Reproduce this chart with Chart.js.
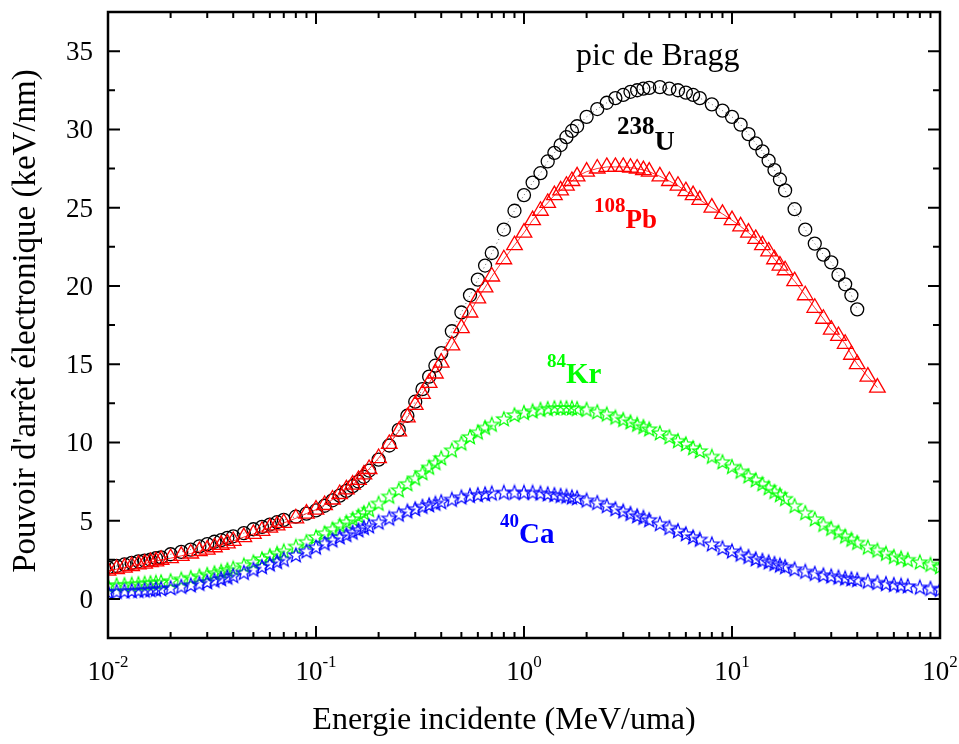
<!DOCTYPE html>
<html>
<head>
<meta charset="utf-8">
<script src="https://cdn.jsdelivr.net/npm/chart.js@4.4.1/dist/chart.umd.min.js"></script>
<style>
  body { margin: 0; background: #fff; }
  canvas { display: block; }
</style>
</head>
<body>
<canvas id="stopping" width="959" height="744"></canvas>
<script>
// energy grid (MeV/uma), shared by every ion
const energies = [
  0.01, 0.011, 0.012, 0.013, 0.014, 0.015, 0.016, 0.017, 0.018, 0.02, 0.0225, 0.025, 0.0275,
  0.03, 0.0325, 0.035, 0.0375, 0.04, 0.045, 0.05, 0.055, 0.06, 0.065, 0.07, 0.08, 0.09,
  0.1, 0.11, 0.12, 0.13, 0.14, 0.15, 0.16, 0.17, 0.18, 0.2, 0.225, 0.25, 0.275,
  0.3, 0.325, 0.35, 0.375, 0.4, 0.45, 0.5, 0.55, 0.6, 0.65, 0.7, 0.8, 0.9,
  1, 1.1, 1.2, 1.3, 1.4, 1.5, 1.6, 1.7, 1.8, 2, 2.25, 2.5, 2.75,
  3, 3.25, 3.5, 3.75, 4, 4.5, 5, 5.5, 6, 6.5, 7, 8, 9,
  10, 11, 12, 13, 14, 15, 16, 17, 18, 20, 22.5, 25, 27.5,
  30, 32.5, 35, 37.5, 40, 45, 50, 55, 60, 65, 70, 80, 90,
  100
];

// electronic stopping power (keV/nm)
const uranium = [
  2.0, 2.1, 2.2, 2.3, 2.4, 2.45, 2.5, 2.6, 2.65, 2.85, 3.0, 3.15, 3.35,
  3.5, 3.65, 3.75, 3.9, 4.0, 4.2, 4.45, 4.6, 4.75, 4.9, 5.05, 5.25, 5.45,
  5.65, 5.95, 6.3, 6.6, 6.9, 7.2, 7.5, 7.8, 8.2, 8.9, 9.8, 10.8, 11.7,
  12.6, 13.4, 14.2, 14.9, 15.7, 17.1, 18.3, 19.4, 20.4, 21.3, 22.1, 23.6, 24.8,
  25.8, 26.6, 27.2, 27.95, 28.5, 29.0, 29.5, 29.9, 30.2, 30.8, 31.3, 31.7, 32.0,
  32.2, 32.4, 32.5, 32.6, 32.65, 32.7, 32.6, 32.5, 32.35, 32.2, 32.0, 31.6, 31.2,
  30.8, 30.3, 29.7, 29.1, 28.6, 28.0, 27.4, 26.8, 26.1, 24.9, 23.6, 22.7, 22.0,
  21.5, 20.7, 20.1, 19.4, 18.5
];
const lead = [
  1.8, 1.9, 2.0, 2.1, 2.2, 2.25, 2.35, 2.4, 2.5, 2.6, 2.75, 2.9, 3.05,
  3.15, 3.3, 3.45, 3.55, 3.7, 3.95, 4.15, 4.35, 4.55, 4.7, 4.85, 5.15, 5.45,
  5.7, 6.0, 6.35, 6.7, 7.0, 7.3, 7.6, 7.95, 8.3, 9.0, 9.9, 10.7, 11.6,
  12.4, 13.1, 13.8, 14.4, 15.1, 16.2, 17.3, 18.3, 19.2, 19.9, 20.6, 21.7, 22.6,
  23.4, 24.2, 24.8, 25.3, 25.8, 26.1, 26.4, 26.7, 27.0, 27.3, 27.5, 27.6, 27.6,
  27.6, 27.55, 27.5, 27.4, 27.3, 27.0, 26.7, 26.4, 26.05, 25.8, 25.5, 25.0, 24.6,
  24.2, 23.8, 23.4, 23.0, 22.6, 22.2, 21.7, 21.3, 21.0, 20.3, 19.4, 18.6, 17.9,
  17.2, 16.8, 16.3, 15.6, 15.0, 14.2, 13.5
];
const krypton = [
  0.85, 0.88, 0.9, 0.93, 0.96, 0.99, 1.02, 1.05, 1.08, 1.15, 1.25, 1.35, 1.45,
  1.55, 1.65, 1.75, 1.85, 1.95, 2.15, 2.35, 2.55, 2.75, 2.9, 3.05, 3.35, 3.65,
  3.95, 4.2, 4.45, 4.7, 4.9, 5.1, 5.3, 5.5, 5.7, 6.1, 6.55, 6.95, 7.35,
  7.7, 8.05, 8.4, 8.7, 9.0, 9.5, 9.95, 10.35, 10.65, 10.95, 11.15, 11.5, 11.75,
  11.9, 12.0, 12.1, 12.15, 12.2, 12.2, 12.2, 12.2, 12.15, 12.1, 11.95, 11.8, 11.6,
  11.45, 11.3, 11.15, 11.0, 10.85, 10.6, 10.35, 10.1, 9.9, 9.65, 9.45, 9.1, 8.75,
  8.45, 8.15, 7.85, 7.6, 7.35, 7.1, 6.85, 6.65, 6.4, 5.95, 5.5, 5.1, 4.75,
  4.5, 4.25, 4.0, 3.8, 3.6, 3.3, 3.1, 2.9, 2.7, 2.6, 2.5, 2.35, 2.2,
  2.05
];
const calcium = [
  0.45, 0.47, 0.49, 0.51, 0.53, 0.55, 0.58, 0.61, 0.64, 0.7, 0.79, 0.88, 0.98,
  1.08, 1.18, 1.28, 1.38, 1.48, 1.68, 1.88, 2.05, 2.22, 2.38, 2.52, 2.8, 3.05,
  3.3, 3.55, 3.75, 3.95, 4.1, 4.25, 4.4, 4.55, 4.65, 4.9, 5.15, 5.4, 5.6,
  5.75, 5.9, 6.0, 6.1, 6.2, 6.35, 6.5, 6.6, 6.65, 6.7, 6.75, 6.8, 6.8,
  6.8, 6.8, 6.75, 6.7, 6.65, 6.6, 6.55, 6.5, 6.45, 6.3, 6.15, 5.95, 5.75,
  5.6, 5.45, 5.3, 5.2, 5.05, 4.8, 4.55, 4.35, 4.15, 3.95, 3.8, 3.5, 3.25,
  3.05, 2.85, 2.7, 2.55, 2.45, 2.35, 2.25, 2.15, 2.05, 1.9, 1.75, 1.62, 1.52,
  1.45, 1.38, 1.32, 1.27, 1.22, 1.12, 1.04, 0.97, 0.91, 0.86, 0.82, 0.74, 0.66,
  0.6
];

const yTicks = [0, 5, 10, 15, 20, 25, 30, 35];
const xDecades = [-2, -1, 0, 1, 2];

const SERIF = '"Liberation Serif", "Times New Roman", serif';

function pairs(values) {
  return values.map((v, i) => ({ x: energies[i], y: v }));
}

// open five-point star used as marker
function starMarker(color) {
  const c = document.createElement('canvas');
  c.width = 18; c.height = 18;
  const g = c.getContext('2d');
  g.strokeStyle = color;
  g.lineWidth = 1.2;
  g.beginPath();
  for (let k = 0; k < 10; k++) {
    const r = k % 2 ? 3.2 : 7.6;
    const a = -Math.PI / 2 + k * Math.PI / 5;
    g.lineTo(9 + r * Math.cos(a), 9.5 + r * Math.sin(a));
  }
  g.closePath();
  g.stroke();
  return c;
}

// frame, inward ticks, tick labels, axis titles and ion labels
const frame = {
  id: 'frame',
  afterDraw(chart) {
    const { ctx, chartArea: a, scales: { x, y } } = chart;
    ctx.save();
    ctx.strokeStyle = '#000';
    ctx.fillStyle = '#000';

    ctx.lineWidth = 2;
    ctx.beginPath();
    for (let v = -2.5; v <= 37.5; v += 2.5) {
      const py = y.getPixelForValue(v);
      const len = v % 5 === 0 ? 12 : 7;
      ctx.moveTo(a.left, py); ctx.lineTo(a.left + len, py);
      ctx.moveTo(a.right, py); ctx.lineTo(a.right - len, py);
    }
    for (let d = -2; d < 2; d++) {
      for (let m = 1; m <= 9; m++) {
        const px = x.getPixelForValue(m * Math.pow(10, d));
        const len = m === 1 ? 12 : 6;
        ctx.moveTo(px, a.bottom); ctx.lineTo(px, a.bottom - len);
        ctx.moveTo(px, a.top); ctx.lineTo(px, a.top + len);
      }
    }
    ctx.stroke();

    ctx.lineWidth = 2.5;
    ctx.strokeRect(a.left, a.top, a.right - a.left, a.bottom - a.top);

    ctx.font = '27px ' + SERIF;
    ctx.textAlign = 'right';
    ctx.textBaseline = 'alphabetic';
    yTicks.forEach(v => {
      ctx.fillText(String(v), a.left - 15, y.getPixelForValue(v) + 9);
    });

    ctx.textAlign = 'left';
    xDecades.forEach(d => {
      const px = x.getPixelForValue(Math.pow(10, d));
      ctx.font = '27px ' + SERIF;
      const wBase = ctx.measureText('10').width;
      ctx.font = '17px ' + SERIF;
      const wExp = ctx.measureText(String(d)).width;
      const start = px - (wBase + wExp) / 2;
      ctx.font = '27px ' + SERIF;
      ctx.fillText('10', start, 680);
      ctx.font = '17px ' + SERIF;
      ctx.fillText(String(d), start + wBase, 667);
    });

    ctx.font = '32px ' + SERIF;
    ctx.textAlign = 'center';
    ctx.fillText('Energie incidente (MeV/uma)', 504, 729);

    ctx.save();
    ctx.font = '33px ' + SERIF;
    ctx.translate(35, 321);
    ctx.rotate(-Math.PI / 2);
    ctx.fillText("Pouvoir d'arrêt électronique (keV/nm)", 0, 0);
    ctx.restore();

    ctx.font = '32px ' + SERIF;
    ctx.fillText('pic de Bragg', x.getPixelForValue(4.4), y.getPixelForValue(34.1));

    const iso = (mass, sym, e, v, color, supSize, symSize) => {
      const px = x.getPixelForValue(e);
      const py = y.getPixelForValue(v);
      ctx.fillStyle = color;
      ctx.textAlign = 'left';
      ctx.font = 'bold ' + supSize + 'px ' + SERIF;
      ctx.fillText(mass, px, py - 16);
      const w = ctx.measureText(mass).width;
      ctx.font = 'bold ' + symSize + 'px ' + SERIF;
      ctx.fillText(sym, px + w, py);
    };
    iso('238', 'U', 2.8, 28.7, '#000000', 25, 28);
    iso('108', 'Pb', 2.17, 23.7, '#ff0000', 21, 27);
    iso('84', 'Kr', 1.29, 13.8, '#00ff00', 19, 29);
    iso('40', 'Ca', 0.767, 3.58, '#0000ff', 19, 29);

    ctx.restore();
  }
};

const ctx = document.getElementById('stopping').getContext('2d');

new Chart(ctx, {
  type: 'line',
  data: {
    datasets: [
      {
        label: '40Ca',
        data: pairs(calcium),
        showLine: false,
        borderColor: '#0000ff',
        pointStyle: starMarker('#0000ff'),
        pointRadius: 8
      },
      {
        label: '84Kr',
        data: pairs(krypton),
        showLine: false,
        borderColor: '#00ff00',
        pointStyle: starMarker('#00ff00'),
        pointRadius: 8
      },
      {
        label: '108Pb',
        data: pairs(lead),
        borderColor: '#ff0000',
        borderWidth: 0.8,
        pointStyle: 'triangle',
        pointRadius: 9,
        pointBorderWidth: 1.3,
        pointBackgroundColor: 'rgba(0,0,0,0)'
      },
      {
        label: '238U',
        data: pairs(uranium),
        borderColor: '#000000',
        borderWidth: 0.6,
        borderDash: [1, 3],
        pointStyle: 'circle',
        pointRadius: 6.5,
        pointBorderWidth: 1.3,
        pointBackgroundColor: 'rgba(0,0,0,0)'
      }
    ]
  },
  options: {
    responsive: false,
    animation: false,
    devicePixelRatio: 1,
    layout: { padding: { left: 108, right: 19, top: 12, bottom: 106 } },
    elements: { line: { tension: 0 } },
    plugins: {
      legend: { display: false },
      tooltip: { enabled: false }
    },
    scales: {
      x: { type: 'logarithmic', min: 0.01, max: 100, display: false },
      y: { type: 'linear', min: -2.5, max: 37.5, display: false }
    }
  },
  plugins: [frame]
});
</script>
</body>
</html>
